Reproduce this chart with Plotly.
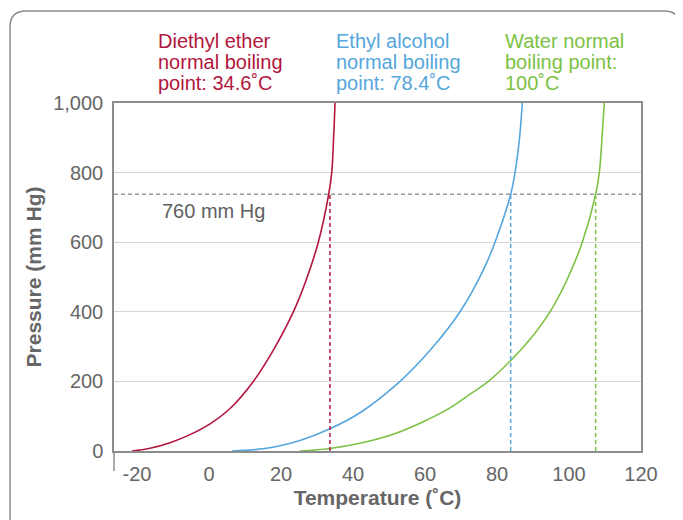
import plotly.graph_objects as go

# ---- data ----
ether_T = [-21.39, -16.39, -10.83, -5.28, 0.28, 5.83, 12.31, 17.86, 23.42, 26.94, 30.36, 33.25, 34.08, 34.61, 35.0]
ether_P = [0, 8, 24, 47, 78, 122, 200, 290, 400, 490, 600, 738, 800, 900, 1000]

alcohol_T = [6.31, 12.78, 18.81, 25.28, 33.42, 41.94, 53.06, 62.31, 69.72, 76.19, 79.44, 83.81, 85.0, 85.83, 86.39, 87.03]
alcohol_P = [0, 4, 13, 30, 63, 110, 200, 300, 400, 520, 600, 738, 800, 860, 913, 1000]

water_T = [25.28, 33.61, 41.94, 50.28, 58.61, 66.94, 72.3, 77.58, 83.61, 89.17, 94.72, 99.36, 103.69, 107.42, 108.42, 109.25, 109.81]
water_P = [0, 7, 22, 45, 80, 124, 162, 200, 258, 321, 400, 490, 600, 738, 800, 913, 1000]

boiling_T = [33.6, 83.8, 107.4]      # where each curve meets the atmospheric line (as drawn)
atm_P = 738                          # drawn level of the "760 mm Hg" line
atm_label = "760 mm Hg"

x_ticks = [-20, 0, 20, 40, 60, 80, 100, 120]
x_ticktext = ["-20", "0", "20", "40", "60", "80", "100", "120"]
y_ticks = [0, 200, 400, 600, 800, 1000]
y_ticktext = ["0", "200", "400", "600", "800", "1,000"]

names = ["Diethyl ether", "Ethyl alcohol", "Water"]
label_lines = [
    ["Diethyl ether", "normal boiling", "point: 34.6˚C"],
    ["Ethyl alcohol", "normal boiling", "point: 78.4˚C"],
    ["Water normal", "boiling point:", "100˚C"],
]
colors = ["#b2163e", "#55a6dc", "#7cc144"]

X_RANGE = [-26.4, 120]
Y_RANGE = [0, 1000]

FONT = "Liberation Sans, Arial, sans-serif"
OFF = 8                      # page body margin
W, H = 675, 512
L, R, T, B = 106, 42, 95, 69
pw, ph = W - L - R, H - T - B


def px2paper(xp, yp):
    """reference-screenshot pixel -> paper coordinates"""
    return (xp - OFF - L) / pw, (H - B - (yp - OFF)) / ph


fig = go.Figure()

series = [(ether_T, ether_P), (alcohol_T, alcohol_P), (water_T, water_P)]
for (xs, ys), c, n in zip(series, colors, names):
    fig.add_trace(go.Scatter(x=xs, y=ys, mode="lines", name=n,
                             line=dict(color=c, width=1.6, shape="spline", smoothing=1.1),
                             hoverinfo="skip", showlegend=False))

# atmospheric pressure line
fig.add_trace(go.Scatter(x=X_RANGE, y=[atm_P, atm_P], mode="lines",
                         line=dict(color="#999999", width=1.5, dash="4px,3px"),
                         hoverinfo="skip", showlegend=False))

# vertical dashed lines at boiling points
for bt, c in zip(boiling_T, colors):
    fig.add_trace(go.Scatter(x=[bt, bt], y=[0, atm_P], mode="lines",
                             line=dict(color=c, width=1.5, dash="4px,3px"),
                             hoverinfo="skip", showlegend=False))

fig.add_annotation(x=-13.6, y=690, xref="x", yref="y", text=atm_label, showarrow=False,
                   xanchor="left", yanchor="middle",
                   font=dict(family=FONT, size=20, color="#606060"))

# boiling-point labels (one annotation per line to control line spacing)
label_x_px = [157, 335, 504]
line_y_px = [40.5, 61.5, 82.5]
for lines, c, xp in zip(label_lines, colors, label_x_px):
    for ln, yp in zip(lines, line_y_px):
        ax, ay = px2paper(xp, yp)
        fig.add_annotation(x=ax, y=ay, xref="paper", yref="paper",
                           text=ln, showarrow=False, xanchor="left", yanchor="middle",
                           borderpad=0,
                           font=dict(family=FONT, size=20, color=c))

# outer rounded frame
x0, y0 = px2paper(10, 540)
x1, y1 = px2paper(680, 11)
rx, ry = 16 / pw, 16 / ph
path = (f"M {x0},{y0} L {x0},{y1 - ry} Q {x0},{y1} {x0 + rx},{y1} "
        f"L {x1 - rx},{y1} Q {x1},{y1} {x1},{y1 - ry} L {x1},{y0}")
fig.add_shape(type="path", path=path, xref="paper", yref="paper",
              line=dict(color="#8c8c8c", width=1.5), layer="below")

# y-axis line extending below the x axis
_, ay1 = px2paper(114, 471)
fig.add_shape(type="line", x0=0, x1=0, y0=0, y1=ay1, xref="paper", yref="paper",
              line=dict(color="#8c8c8c", width=1.5))

fig.update_layout(
    width=W, height=H,
    margin=dict(l=L, r=R, t=T, b=B, autoexpand=False),
    paper_bgcolor="white", plot_bgcolor="white",
    font=dict(family=FONT, size=20, color="#666666"),
    xaxis=dict(range=X_RANGE, tickvals=x_ticks, ticktext=x_ticktext,
               showgrid=False, zeroline=False,
               showline=True, linecolor="#8c8c8c", linewidth=1.5, mirror=True,
               ticks="", ticklabelstandoff=4, automargin=False,
               tickfont=dict(family=FONT, size=20, color="#666666"),
               title=dict(text="<b>Temperature (˚C)</b>", standoff=7,
                          font=dict(family=FONT, size=21, color="#666666"))),
    yaxis=dict(range=Y_RANGE, tickvals=y_ticks, ticktext=y_ticktext,
               showgrid=True, gridcolor="#d6d6d6", gridwidth=1.2, zeroline=False,
               showline=True, linecolor="#8c8c8c", linewidth=1.5, mirror=True,
               ticks="", ticklabelstandoff=5, automargin=False,
               tickfont=dict(family=FONT, size=20, color="#666666"),
               title=dict(text="<b>Pressure (mm Hg)</b>", standoff=6,
                          font=dict(family=FONT, size=21, color="#666666"))),
)

fig.write_html("out.html")
